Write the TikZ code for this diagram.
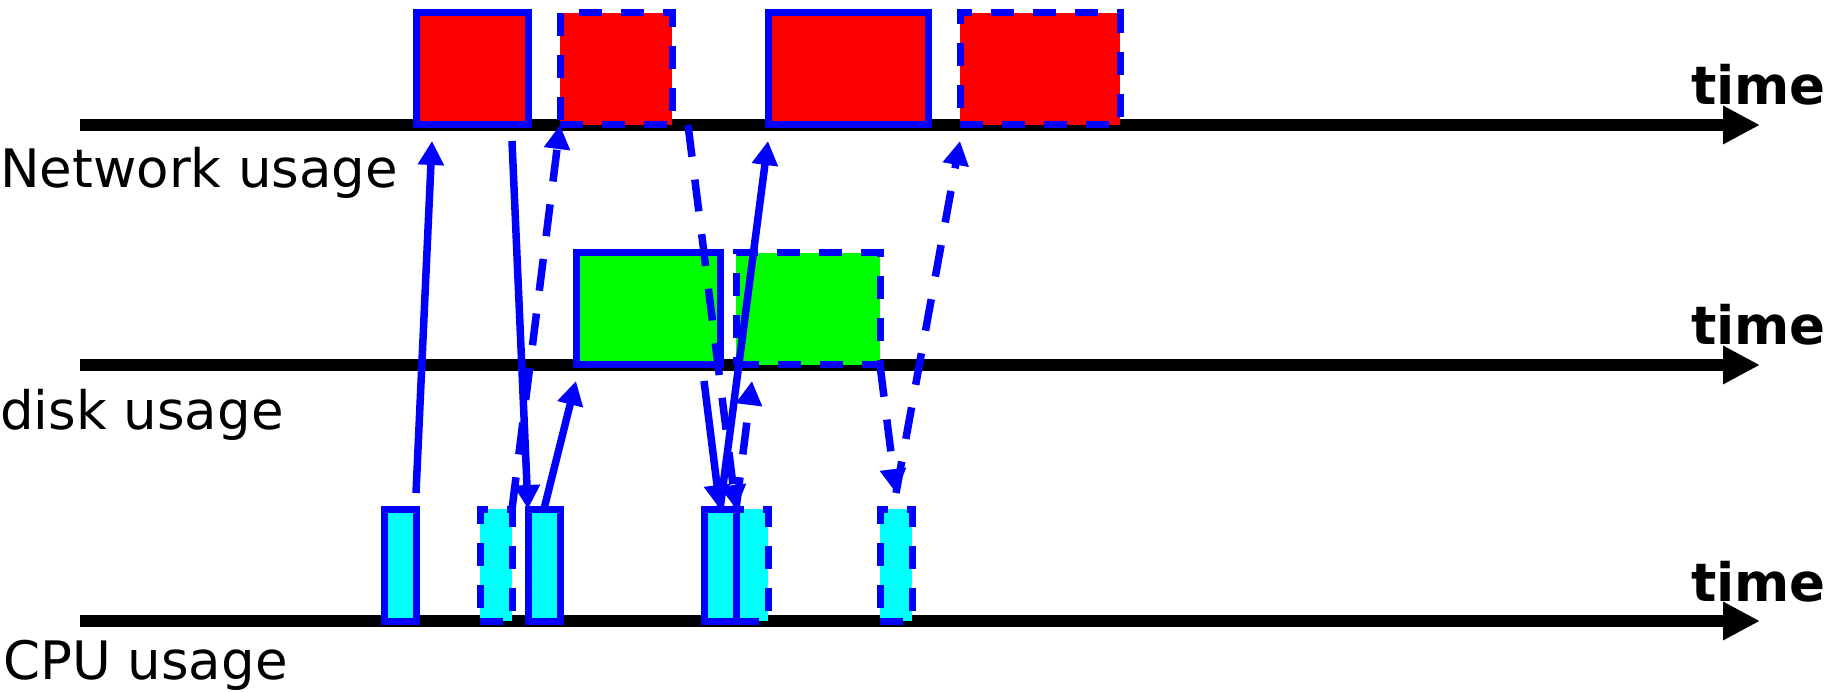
\documentclass[tikz,border=0pt]{standalone}
\usepackage{fontspec}
\setmainfont{DejaVu Sans}
\usetikzlibrary{arrows.meta}
\definecolor{netred}{RGB}{255,0,0}
\definecolor{diskgreen}{RGB}{0,255,0}
\definecolor{cpuaqua}{RGB}{0,255,255}
\definecolor{edgeblue}{RGB}{0,0,255}
\begin{document}
\begin{tikzpicture}[x=1pt,y=-1pt,
  timeline/.style={line width=12pt, -{Triangle[length=37pt,width=36pt]}},
  usage/.style={draw=edgeblue, line width=7pt, inner sep=0pt, outer sep=0pt,
                anchor=south west, minimum height=112pt},
  busy/.style={usage},
  pending/.style={usage, dash pattern=on 23pt off 19pt},
  netbox/.style={fill=netred},
  diskbox/.style={fill=diskgreen},
  cpubox/.style={fill=cpuaqua, minimum width=32pt},
  req/.style={draw=edgeblue, line width=7.5pt, -{Triangle[length=24pt,width=25pt]}},
  reqdash/.style={req, dash pattern=on 32pt off 23pt},
  lbl/.style={font=\fontsize{53}{60}\selectfont, inner sep=0pt, anchor=base west},
  timelbl/.style={lbl, font=\fontsize{53}{60}\selectfont\bfseries}
]
\useasboundingbox (0,0) rectangle (1845,692);

% time axes
\coordinate (netL) at (80,125);  \coordinate (netR) at (1760,125);
\coordinate (dskL) at (80,365);  \coordinate (dskR) at (1760,365);
\coordinate (cpuL) at (80,621);  \coordinate (cpuR) at (1760,621);
\draw[timeline] (netL) -- (netR);
\draw[timeline] (dskL) -- (dskR);
\draw[timeline] (cpuL) -- (cpuR);

% axis labels
\node[timelbl] (tnet) at (1691,105) {time};
\node[timelbl] (tdsk) at (1691,345) {time};
\node[timelbl] (tcpu) at (1691,601) {time};
\node[lbl] (lnet) at (0,188) {Network usage};
\node[lbl] (ldsk) at (0,429) {disk usage};
\node[lbl] (lcpu) at (3,679) {CPU usage};

% network activity
\node[busy,    netbox, minimum width=112pt] (N1) at (416,125) {};
\node[pending, netbox, minimum width=112pt] (N2) at (560,125) {};
\node[busy,    netbox, minimum width=160pt] (N3) at (768,125) {};
\node[pending, netbox, minimum width=160pt] (N4) at (960,125) {};

% disk activity
\node[busy,    diskbox, minimum width=144pt] (D1) at (576,365) {};
\node[pending, diskbox, minimum width=144pt] (D2) at (736,365) {};

% CPU activity
\node[busy,    cpubox] (C1) at (384,621) {};
\node[pending, cpubox] (C2) at (480,621) {};
\node[busy,    cpubox] (C3) at (528,621) {};
\node[pending, cpubox] (C5) at (736,621) {};
\node[busy,    cpubox] (C4) at (704,621) {};
\node[pending, cpubox] (C6) at (880,621) {};

% requests and completions
\draw[req]     ([yshift=16pt]C1.north east) -- ([xshift=16pt,yshift=-16pt]N1.south west);
\draw[req]     ([xshift=-16pt,yshift=-16pt]N1.south east) -- (C3.north west);
\draw[reqdash] (C2.north east) -- (N2.south west);
\draw[req]     (C3.north) -- ([yshift=-16pt]D1.south west);
\draw[reqdash] ([xshift=16pt]N2.south east) -- (C4.north east);
\draw[req]     ([xshift=-16pt,yshift=-16pt]D1.south east) -- (C4.north);
\draw[req]     (C4.north) -- ([yshift=-16pt]N3.south west);
\draw[reqdash] (C5.north west) -- ([xshift=16pt,yshift=-16pt]D2.south west);
\draw[reqdash] (D2.south east) -- ([yshift=16pt]C6.north);
\draw[reqdash] ([yshift=16pt]C6.north) -- ([yshift=-16pt]N4.south west);
\end{tikzpicture}
\end{document}
